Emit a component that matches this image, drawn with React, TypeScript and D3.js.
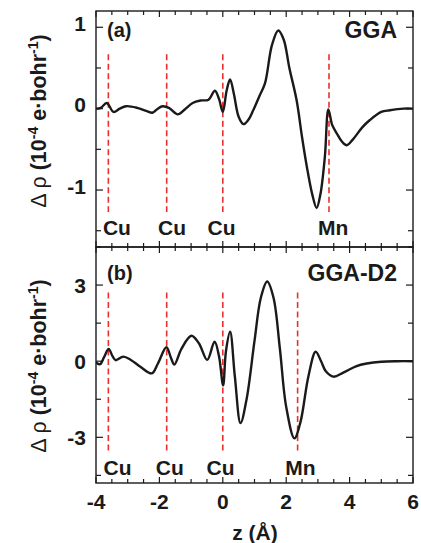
import React from "react";
import * as d3 from "d3";

// ---- data ----
const zTicks = [-4, -2, 0, 2, 4, 6];
const zTickLabels = ["-4", "-2", "0", "2", "4", "6"];
const topYTicks = [-1, 0, 1];
const topYTickLabels = ["-1", "0", "1"];
const botYTicks = [-3, 0, 3];
const botYTickLabels = ["-3", "0", "3"];

// GGA (panel a): [z, delta rho]
const ggaCurve: [number, number][] = [
  [-4.0, 0.0], [-3.85, 0.01], [-3.66, 0.07], [-3.45, -0.04], [-3.25, 0.0], [-3.05, 0.03],
  [-2.7, 0.01], [-2.4, -0.03], [-2.22, -0.05], [-2.05, 0.0], [-1.9, 0.03], [-1.7, 0.01],
  [-1.42, -0.07], [-1.2, -0.01], [-0.95, 0.07], [-0.7, 0.1], [-0.45, 0.11], [-0.25, 0.22],
  [-0.12, 0.12], [0.0, -0.04], [0.12, 0.22], [0.23, 0.36], [0.35, 0.18], [0.5, -0.1],
  [0.65, -0.19], [0.8, -0.14], [0.96, -0.02], [1.15, 0.15], [1.33, 0.31], [1.55, 0.78],
  [1.75, 0.96], [1.92, 0.85], [2.1, 0.5], [2.33, 0.1], [2.5, -0.35], [2.65, -0.71],
  [2.82, -1.05], [2.96, -1.22], [3.08, -1.05], [3.22, -0.59], [3.33, -0.01], [3.45, -0.2],
  [3.59, -0.3], [3.75, -0.4], [3.91, -0.45], [4.1, -0.38], [4.4, -0.23], [4.64, -0.14],
  [5.0, -0.04], [5.27, -0.02], [5.7, 0.0], [6.0, 0.0],
];

// GGA-D2 (panel b)
const d2Curve: [number, number][] = [
  [-4.0, -0.05], [-3.87, -0.12], [-3.75, 0.15], [-3.6, 0.48], [-3.48, 0.2], [-3.38, 0.04],
  [-3.14, 0.18], [-2.9, 0.05], [-2.6, -0.22], [-2.24, -0.48], [-2.05, -0.1], [-1.78, 0.55],
  [-1.64, 0.15], [-1.53, -0.13], [-1.3, 0.5], [-0.99, 1.0], [-0.75, 0.7], [-0.49, 0.05],
  [-0.26, 0.77], [-0.12, 0.2], [0.01, -0.95], [0.1, 0.4], [0.23, 1.16], [0.38, -0.6],
  [0.56, -2.44], [0.75, -1.5], [1.0, 0.8], [1.2, 2.5], [1.4, 3.14], [1.6, 2.5],
  [1.8, 0.5], [2.0, -1.8], [2.26, -3.04], [2.45, -2.4], [2.7, -0.6], [2.93, 0.37],
  [3.1, 0.0], [3.25, -0.4], [3.49, -0.61], [3.8, -0.45], [4.2, -0.2], [4.54, -0.09],
  [5.0, -0.02], [5.5, 0.0], [6.0, 0.0],
];

const atomNames = ["Cu", "Cu", "Cu", "Mn"];
const topAtomZ = [-3.61, -1.77, 0.0, 3.35];
const botAtomZ = [-3.61, -1.77, 0.0, 2.36];
const topLabelZ = [-3.34, -1.6, -0.04, 3.48];
const botLabelZ = [-3.32, -1.67, -0.07, 2.45];
const topDashRange = [0.67, -1.27];
const botDashRange = [2.71, -3.53];
const topLabelY = -1.55;
const botLabelY = -4.5;

const W = 421;
const H = 543;
const left = 96;
const right = 413;
const topY0 = 11;
const midY = 247;
const botY1 = 483;

const FONT = "'Liberation Sans', Arial, Helvetica, sans-serif";
const INK = "#1a1a1a";
const RED = "#e8312f";

const x = d3.scaleLinear().domain([-4, 6]).range([left, right]);
const yTop = d3.scaleLinear().domain([-1.7, 1.2]).range([midY, topY0]);
const yBot = d3.scaleLinear().domain([-4.8, 4.5]).range([botY1, midY]);

function Panel(props: {
  y: d3.ScaleLinear<number, number>;
  curve: [number, number][];
  yTicks: number[];
  yTickLabels: string[];
  yMinorStep: number;
  atomZ: number[];
  labelZ: number[];
  dash: number[];
  labelY: number;
  tag: string;
  name: string;
  tagY: number;
  labelDy: number;
  showX: boolean;
}) {
  const { y } = props;
  const [y0, y1] = y.range();
  const line = d3
    .line<[number, number]>()
    .x((d) => x(d[0]))
    .y((d) => y(d[1]))
    .curve(d3.curveCatmullRom.alpha(0.5));
  const [dmin, dmax] = y.domain();
  const minorY: number[] = [];
  for (let v = Math.ceil(dmin / props.yMinorStep) * props.yMinorStep; v <= dmax + 1e-9; v += props.yMinorStep) {
    minorY.push(+v.toFixed(4));
  }
  const minorX: number[] = d3.range(-4, 6.001, 0.5);
  const isMajorY = (v: number) => props.yTicks.some((t) => Math.abs(t - v) < 1e-6);
  const isMajorX = (v: number) => zTicks.some((t) => Math.abs(t - v) < 1e-6);
  return (
    <g>
      <defs>
        <clipPath id={"clip" + props.tag}>
          <rect x={left} y={y1} width={right - left} height={y0 - y1} />
        </clipPath>
      </defs>
      {props.atomZ.map((z, i) => (
        <line
          key={"d" + i}
          x1={x(z)}
          x2={x(z)}
          y1={y(props.dash[0])}
          y2={y(props.dash[1])}
          stroke={RED}
          strokeWidth={1.6}
          strokeDasharray="6,3.5"
        />
      ))}
      <path d={line(props.curve) || ""} fill="none" stroke={INK} strokeWidth={2.4} clipPath={`url(#clip${props.tag})`} />
      <rect x={left} y={y1} width={right - left} height={y0 - y1} fill="none" stroke={INK} strokeWidth={1.4} />
      {minorY.map((v, i) => {
        const len = isMajorY(v) ? 7 : 5;
        return (
          <g key={"yt" + i}>
            <line x1={left} x2={left + len} y1={y(v)} y2={y(v)} stroke={INK} strokeWidth={1.2} />
            <line x1={right} x2={right - len} y1={y(v)} y2={y(v)} stroke={INK} strokeWidth={1.2} />
          </g>
        );
      })}
      {minorX.map((v, i) => {
        const len = isMajorX(v) ? 6 : 4;
        return (
          <g key={"xt" + i}>
            <line x1={x(v)} x2={x(v)} y1={y0} y2={y0 - len} stroke={INK} strokeWidth={1.2} />
            <line x1={x(v)} x2={x(v)} y1={y1} y2={y1 + len} stroke={INK} strokeWidth={1.2} />
          </g>
        );
      })}
      {props.yTicks.map((t, i) => (
        <text
          key={"yl" + i}
          x={86}
          y={y(t) + props.labelDy}
          dominantBaseline="central"
          textAnchor="end"
          fontFamily={FONT}
          fontWeight="bold"
          fontSize={21}
          fill={INK}
        >
          {props.yTickLabels[i]}
        </text>
      ))}
      {props.labelZ.map((z, i) => (
        <text
          key={"al" + i}
          x={x(z)}
          y={y(props.labelY)}
          textAnchor="middle"
          fontFamily={FONT}
          fontWeight="bold"
          fontSize={21}
          fill={INK}
        >
          {atomNames[i]}
        </text>
      ))}
      <text x={107} y={props.tagY} fontFamily={FONT} fontWeight="bold" fontSize={20} fill={INK}>
        {"(" + props.tag + ")"}
      </text>
      <text x={397} y={props.tagY + 1} textAnchor="end" fontFamily={FONT} fontWeight="bold" fontSize={23} fill={INK}>
        {props.name}
      </text>
      {props.showX &&
        zTicks.map((t, i) => (
          <text
            key={"xl" + i}
            x={x(t)}
            y={509}
            textAnchor="middle"
            fontFamily={FONT}
            fontWeight="bold"
            fontSize={21}
            fill={INK}
          >
            {zTickLabels[i]}
          </text>
        ))}
    </g>
  );
}

function YTitle(props: { cy: number }) {
  return (
    <text
      transform={`translate(46,${props.cy}) rotate(-90)`}
      textAnchor="middle"
      fontFamily={FONT}
      fontWeight="bold"
      fontSize={21.5}
      fill={INK}
    >
      <tspan fontWeight="normal">Δ ρ </tspan>
      <tspan>(10</tspan>
      <tspan fontSize={14} dy={-8}>-4</tspan>
      <tspan dy={8}> e·bohr</tspan>
      <tspan fontSize={14} dy={-8}>-1</tspan>
      <tspan dy={8}>)</tspan>
    </text>
  );
}

export default function App() {
  return (
    <div style={{ position: "fixed", left: 0, top: 0 }}>
      <svg width={W} height={H} viewBox={`0 0 ${W} ${H}`} style={{ display: "block", background: "#fff" }}>
        <rect x={0} y={0} width={W} height={H} fill="#fff" />
        <Panel
          y={yTop}
          curve={ggaCurve}
          yTicks={topYTicks}
          yTickLabels={topYTickLabels}
          yMinorStep={0.5}
          atomZ={topAtomZ}
          labelZ={topLabelZ}
          dash={topDashRange}
          labelY={topLabelY}
          tag="a"
          name="GGA"
          tagY={37}
          labelDy={-4}
          showX={false}
        />
        <Panel
          y={yBot}
          curve={d2Curve}
          yTicks={botYTicks}
          yTickLabels={botYTickLabels}
          yMinorStep={1.5}
          atomZ={botAtomZ}
          labelZ={botLabelZ}
          dash={botDashRange}
          labelY={botLabelY}
          tag="b"
          name="GGA-D2"
          tagY={280}
          labelDy={0}
          showX={true}
        />
        <YTitle cy={121} />
        <YTitle cy={366} />
        <text x={255} y={540} textAnchor="middle" fontFamily={FONT} fontWeight="bold" fontSize={21} fill={INK}>
          z (Å)
        </text>
      </svg>
    </div>
  );
}
